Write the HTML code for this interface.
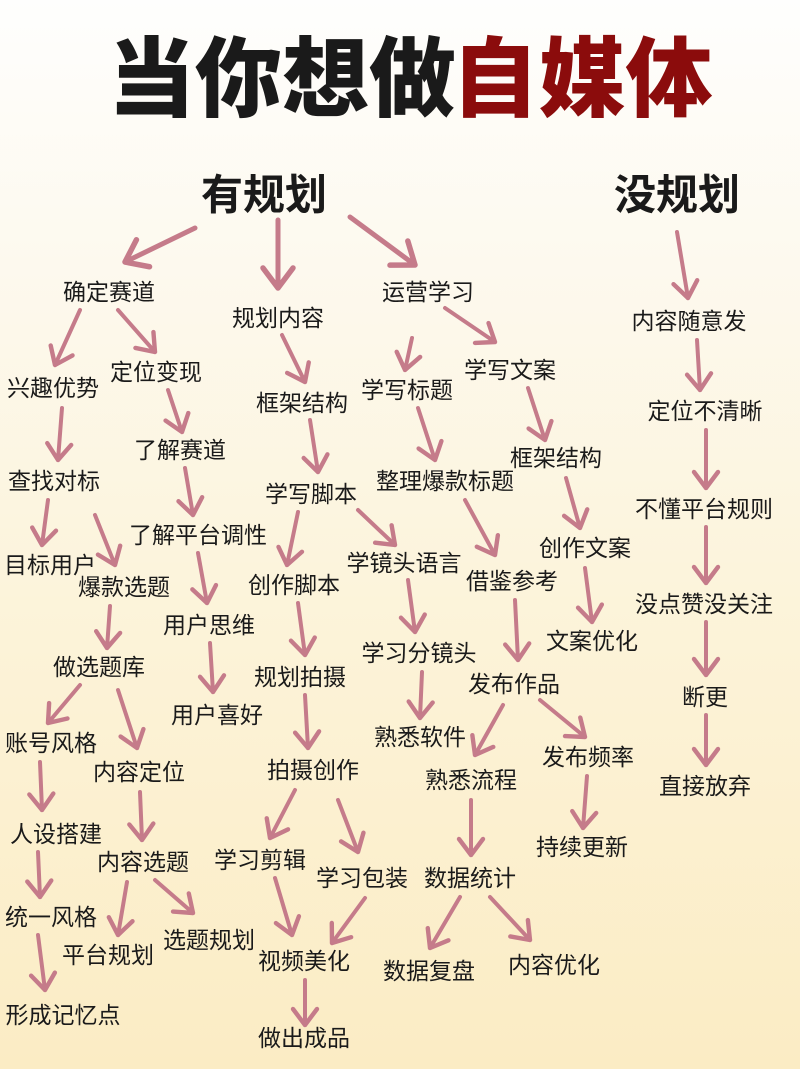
<!DOCTYPE html>
<html><head><meta charset="utf-8"><style>
html,body{margin:0;padding:0}
body{width:800px;height:1069px;background:linear-gradient(#fefefd 0%,#fdf9ee 25%,#fcf3d8 60%,#fbecc4 100%);overflow:hidden}
svg{display:block}
text{font-family:"Liberation Sans","Noto Sans CJK SC",sans-serif;fill:#1a1a1a;dominant-baseline:central;text-anchor:middle}
.l{font-size:23px}
.t{font-size:87px;font-weight:900}
.h{font-size:42px;font-weight:700}
line{stroke:#c57b8a;stroke-width:4;stroke-linecap:round}
.b{stroke-width:5}
</style></head><body>
<svg width="800" height="1069" viewBox="0 0 800 1069">
<defs><marker id="a" markerWidth="8" markerHeight="8" refX="5" refY="4" orient="auto" markerUnits="strokeWidth"><path d="M1,1 L5,4 L1,7" fill="none" stroke="#c57b8a" stroke-width="1.1" stroke-linecap="round" stroke-linejoin="round"/></marker></defs>
<text x="282" y="80" class="t">当你想做</text>
<text x="582" y="80" class="t" style="fill:#8b0c0c">自媒体</text>
<text x="264" y="195" class="h">有规划</text>
<text x="677" y="195" class="h">没规划</text>
<g class="l">
<text x="109" y="292">确定赛道</text><text x="53" y="388">兴趣优势</text><text x="156" y="372">定位变现</text>
<text x="180" y="450">了解赛道</text><text x="54" y="481">查找对标</text><text x="198" y="535">了解平台调性</text>
<text x="50" y="565">目标用户</text><text x="124" y="587">爆款选题</text><text x="209" y="625">用户思维</text>
<text x="99" y="667">做选题库</text><text x="217" y="715">用户喜好</text><text x="51" y="743">账号风格</text>
<text x="139" y="772">内容定位</text><text x="56" y="834">人设搭建</text><text x="143" y="862">内容选题</text>
<text x="51" y="917">统一风格</text><text x="108" y="955">平台规划</text><text x="209" y="940">选题规划</text>
<text x="63" y="1015">形成记忆点</text>
<text x="278" y="318">规划内容</text><text x="302" y="403">框架结构</text><text x="311" y="494">学写脚本</text>
<text x="294" y="585">创作脚本</text><text x="300" y="677">规划拍摄</text><text x="313" y="770">拍摄创作</text>
<text x="260" y="860">学习剪辑</text><text x="362" y="878">学习包装</text><text x="304" y="961">视频美化</text>
<text x="304" y="1038">做出成品</text>
<text x="428" y="292">运营学习</text><text x="407" y="390">学写标题</text><text x="510" y="370">学写文案</text>
<text x="445" y="481">整理爆款标题</text><text x="556" y="458">框架结构</text><text x="404" y="563">学镜头语言</text>
<text x="585" y="548">创作文案</text><text x="512" y="581">借鉴参考</text><text x="419" y="653">学习分镜头</text>
<text x="592" y="641">文案优化</text><text x="514" y="684">发布作品</text><text x="420" y="737">熟悉软件</text>
<text x="588" y="757">发布频率</text><text x="471" y="780">熟悉流程</text><text x="582" y="847">持续更新</text>
<text x="470" y="878">数据统计</text><text x="429" y="971">数据复盘</text><text x="554" y="965">内容优化</text>
<text x="689" y="321">内容随意发</text><text x="705" y="411">定位不清晰</text><text x="704" y="509">不懂平台规则</text>
<text x="704" y="604">没点赞没关注</text><text x="705" y="697">断更</text><text x="705" y="786">直接放弃</text>
</g>
<g marker-end="url(#a)">
<line class="b" x1="195" y1="228" x2="125" y2="262"/><line class="b" x1="278" y1="220" x2="278" y2="288"/><line class="b" x1="350" y1="217" x2="415" y2="265"/>
<line x1="80" y1="310" x2="55" y2="365"/><line x1="118" y1="310" x2="155" y2="352"/>
<line x1="168" y1="390" x2="182" y2="432"/><line x1="185" y1="468" x2="193" y2="515"/>
<line x1="198" y1="553" x2="207" y2="603"/><line x1="210" y1="643" x2="213" y2="692"/>
<line x1="62" y1="408" x2="58" y2="460"/><line x1="48" y1="500" x2="42" y2="545"/>
<line x1="95" y1="515" x2="115" y2="565"/><line x1="110" y1="606" x2="107" y2="648"/>
<line x1="80" y1="685" x2="48" y2="723"/><line x1="118" y1="690" x2="137" y2="748"/>
<line x1="40" y1="762" x2="42" y2="810"/><line x1="140" y1="792" x2="142" y2="840"/>
<line x1="38" y1="852" x2="40" y2="897"/><line x1="38" y1="935" x2="45" y2="990"/>
<line x1="127" y1="882" x2="118" y2="935"/><line x1="155" y1="880" x2="193" y2="913"/>
<line x1="282" y1="335" x2="305" y2="382"/><line x1="310" y1="420" x2="318" y2="472"/>
<line x1="298" y1="512" x2="287" y2="565"/><line x1="358" y1="510" x2="395" y2="545"/>
<line x1="298" y1="603" x2="305" y2="655"/><line x1="305" y1="695" x2="308" y2="748"/>
<line x1="295" y1="790" x2="270" y2="838"/><line x1="338" y1="800" x2="358" y2="852"/>
<line x1="275" y1="878" x2="292" y2="935"/><line x1="365" y1="898" x2="332" y2="943"/>
<line x1="305" y1="980" x2="305" y2="1025"/>
<line x1="412" y1="338" x2="405" y2="370"/><line x1="445" y1="308" x2="495" y2="342"/>
<line x1="418" y1="408" x2="435" y2="460"/><line x1="528" y1="388" x2="545" y2="440"/>
<line x1="408" y1="580" x2="415" y2="632"/><line x1="465" y1="500" x2="495" y2="555"/>
<line x1="515" y1="600" x2="518" y2="660"/><line x1="566" y1="478" x2="580" y2="528"/>
<line x1="585" y1="568" x2="592" y2="622"/><line x1="422" y1="672" x2="420" y2="718"/>
<line x1="503" y1="705" x2="475" y2="755"/><line x1="540" y1="700" x2="585" y2="737"/>
<line x1="587" y1="776" x2="583" y2="828"/><line x1="471" y1="800" x2="471" y2="855"/>
<line x1="460" y1="897" x2="430" y2="948"/><line x1="490" y1="897" x2="530" y2="940"/>
<line x1="677" y1="232" x2="688" y2="298"/><line x1="697" y1="340" x2="700" y2="390"/>
<line x1="706" y1="430" x2="706" y2="488"/><line x1="706" y1="527" x2="706" y2="583"/>
<line x1="706" y1="622" x2="706" y2="675"/><line x1="706" y1="715" x2="706" y2="765"/>
</g>
</svg>
</body></html>
